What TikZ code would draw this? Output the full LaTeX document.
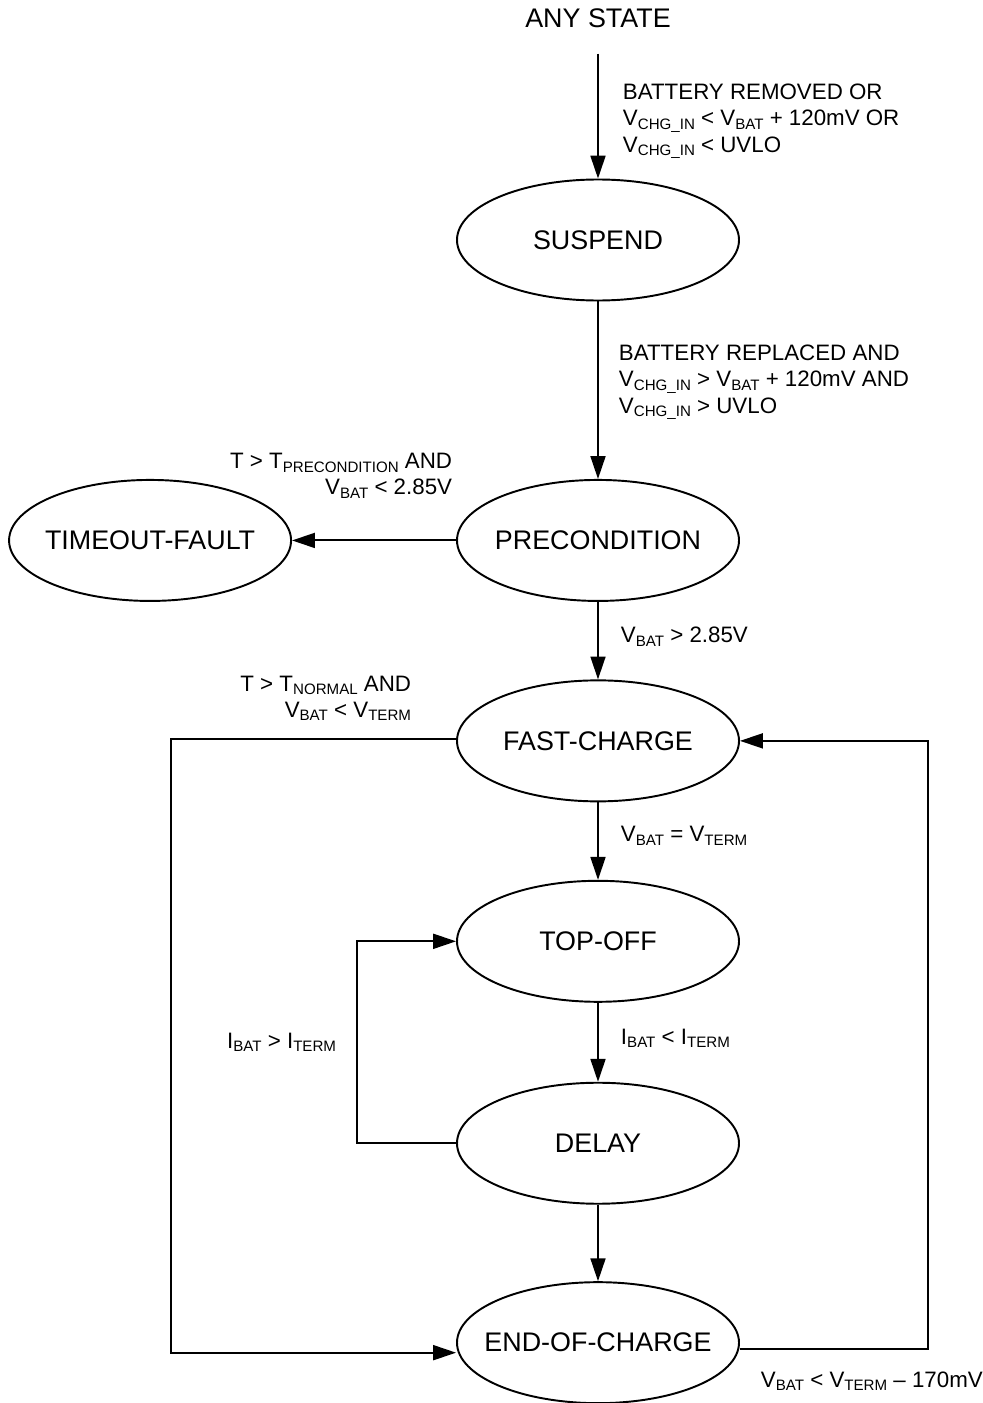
\documentclass[tikz,border=0pt]{standalone}
\usepackage{fontspec}
\setmainfont{Liberation Sans}
\usetikzlibrary{arrows.meta, positioning, shapes.geometric}

\newcommand{\lsub}[1]{\raisebox{-0.3ex}{\fontsize{8.6}{10}\selectfont #1}}
\newcommand{\stname}[1]{\makebox[0pt]{#1}}

\begin{document}
\begin{tikzpicture}[
                    node distance=1.55cm,
                    state/.style={ellipse, draw, line width=1.1pt, minimum width=5.64cm, minimum height=2.42cm, inner sep=0pt, font=\fontsize{15.3}{18}\selectfont},
                    cond/.style={inner sep=0pt, align=left, font=\fontsize{12.7}{15}\selectfont},
                    line/.style={draw, line width=1.1pt, -{Triangle[length=13pt, width=8.5pt]}}
                ]
                    \useasboundingbox (0,0) rectangle (19.66,-28.06);

                    % Place nodes
                    \node [font=\fontsize{15.3}{18}\selectfont] (anystate) at (11.96,-0.36) {ANY STATE};
                    \node [state] (suspend) at (11.96,-4.8) {\stname{SUSPEND}};
                    \node [state, below=3.55cm of suspend] (precondition) {\stname{PRECONDITION}};
                    \node [state, left=3.28cm of precondition] (timeout) {\stname{TIMEOUT-FAULT}};
                    \node [state, below=of precondition] (fastcharge) {\stname{FAST-CHARGE}};
                    \node [state, below=of fastcharge] (topoff) {\stname{TOP-OFF}};
                    \node [state, below=1.58cm of topoff] (delay) {\stname{DELAY}};
                    \node [state, below=1.53cm of delay] (endcharge) {\stname{END-OF-CHARGE}};

                    % Draw edges
                    \path [line, shorten <=0.4cm] (anystate) -- node [cond, pos=0.605, right=0.48cm]
                        {BATTERY REMOVED OR\\V\lsub{CHG\_IN} < V\lsub{BAT} + 120mV OR\\V\lsub{CHG\_IN} < UVLO} (suspend);
                    \path [line] (suspend) -- node [cond, pos=0.455, right=0.4cm]
                        {BATTERY REPLACED AND\\V\lsub{CHG\_IN} > V\lsub{BAT} + 120mV AND\\V\lsub{CHG\_IN} > UVLO} (precondition);
                    \path [line] (precondition) -- node [cond, align=right, at start, anchor=south east, xshift=-0.06cm, yshift=0.82cm]
                        {T > T\lsub{PRECONDITION} AND\\V\lsub{BAT} < 2.85V} (timeout);
                    \path [line] (precondition) -- node [cond, pos=0.45, right=0.44cm] {V\lsub{BAT} > 2.85V} (fastcharge);
                    \path [line] ([yshift=0.04cm]fastcharge.west) -- node [cond, align=right, at start, anchor=south east, xshift=-0.88cm, yshift=0.34cm]
                        {T > T\lsub{NORMAL} AND\\V\lsub{BAT} < V\lsub{TERM}} ++(-5.7,0) |- ([yshift=-0.2cm]endcharge.west);
                    \path [line] (fastcharge) -- node [cond, pos=0.43, right=0.44cm] {V\lsub{BAT} = V\lsub{TERM}} (topoff);
                    \path [line] (topoff) -- node [cond, pos=0.45, right=0.44cm] {I\lsub{BAT} < I\lsub{TERM}} (delay);
                    \path [line] (delay.west) -- ++(-1.98,0) |- node [cond, pos=0.25, left=0.4cm] {I\lsub{BAT} > I\lsub{TERM}} (topoff.west);
                    \path [line] (delay) -- (endcharge);
                    \path [line] ([yshift=-0.12cm]endcharge.east) -- node [cond, at start, anchor=north west, xshift=0.4cm, yshift=-0.44cm]
                        {V\lsub{BAT} < V\lsub{TERM} \textendash{} 170mV} ++(3.76,0) |- (fastcharge.east);
            \end{tikzpicture}
\end{document}
